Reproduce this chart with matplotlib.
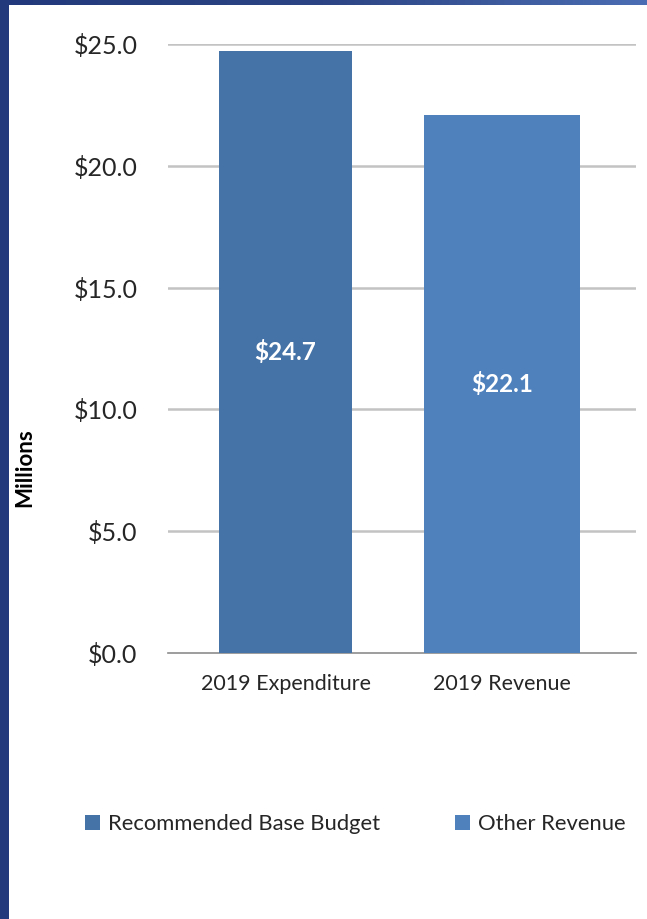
import numpy as np
import matplotlib
matplotlib.use("Agg")
import matplotlib.pyplot as plt
from matplotlib.colors import LinearSegmentedColormap
from matplotlib.patches import Rectangle, Patch

plt.rcParams['font.family'] = ['Lato', 'DejaVu Sans']

# Budget figures, in millions
categories = ['2019 Expenditure', '2019 Revenue']
series_names = ['Recommended Base Budget', 'Other Revenue']
values = [24.7, 22.1]
value_labels = ['$24.7', '$22.1']
yticks = [0, 5, 10, 15, 20, 25]
ytick_labels = ['$0.0', '$5.0', '$10.0', '$15.0', '$20.0', '$25.0']

colors = ['#4573a7', '#4f81bd']
text_color = '#262626'

W, H = 647, 919
fig = plt.figure(figsize=(W / 100, H / 100), dpi=100)

# slide frame: blue gradient strip on the left and top edges
bg = fig.add_axes([0, 0, 1, 1])
cmap = LinearSegmentedColormap.from_list('frame', ['#223a7b', '#2c4483', '#4b6db3'])
grad = np.tile(np.linspace(0, 1, 256), (2, 1))
bg.imshow(grad, cmap=cmap, aspect='auto', extent=[0, W, 0, H])
bg.add_patch(Rectangle((9, 0), W - 9, H - 5, facecolor='white', edgecolor='none'))
bg.set_xlim(0, W)
bg.set_ylim(0, H)
bg.axis('off')

ax = fig.add_axes([168 / W, 1 - 653 / H, 468 / W, 609 / H])
ax.set_facecolor('none')

x = np.arange(len(categories))
widths = [0.614, 0.72]
handles = []
for i in range(len(categories)):
    ax.bar(x[i], values[i], width=widths[i], color=colors[i], zorder=3)
    ax.text(x[i], values[i] / 2, value_labels[i], ha='center', va='center',
            color='white', fontsize=17.5, fontweight='bold', zorder=4)
    handles.append(Patch(facecolor=colors[i], edgecolor='none'))

ax.set_xlim(-0.543, 1.619)
ax.set_ylim(0, 25)
ax.set_yticks(yticks)
ax.set_yticklabels(ytick_labels, fontsize=18, color=text_color)
ax.set_xticks(x)
ax.set_xticklabels(categories, fontsize=15.5, color=text_color)
ax.tick_params(axis='both', length=0)
ax.tick_params(axis='y', pad=22)
ax.tick_params(axis='x', pad=15)

for v in yticks[1:]:
    ax.axhline(v, color='#c3c3c3', lw=1.8, zorder=1)
for s in ['top', 'right', 'left']:
    ax.spines[s].set_visible(False)
ax.spines['bottom'].set_color('#8c8c8c')
ax.spines['bottom'].set_linewidth(1.2)

fig.text(25 / W, 1 - 468 / H, 'Millions', rotation=90, ha='center', va='center',
         fontsize=16, fontweight='bold', color='black')

fig.legend(handles, series_names, ncol=2, loc='center',
           bbox_to_anchor=(355 / W, 1 - 824 / H), frameon=False,
           fontsize=15.8, handlelength=0.7, handleheight=0.7,
           handletextpad=0.35, columnspacing=3.4, labelcolor=text_color)

fig.savefig('out.png', dpi=100)
